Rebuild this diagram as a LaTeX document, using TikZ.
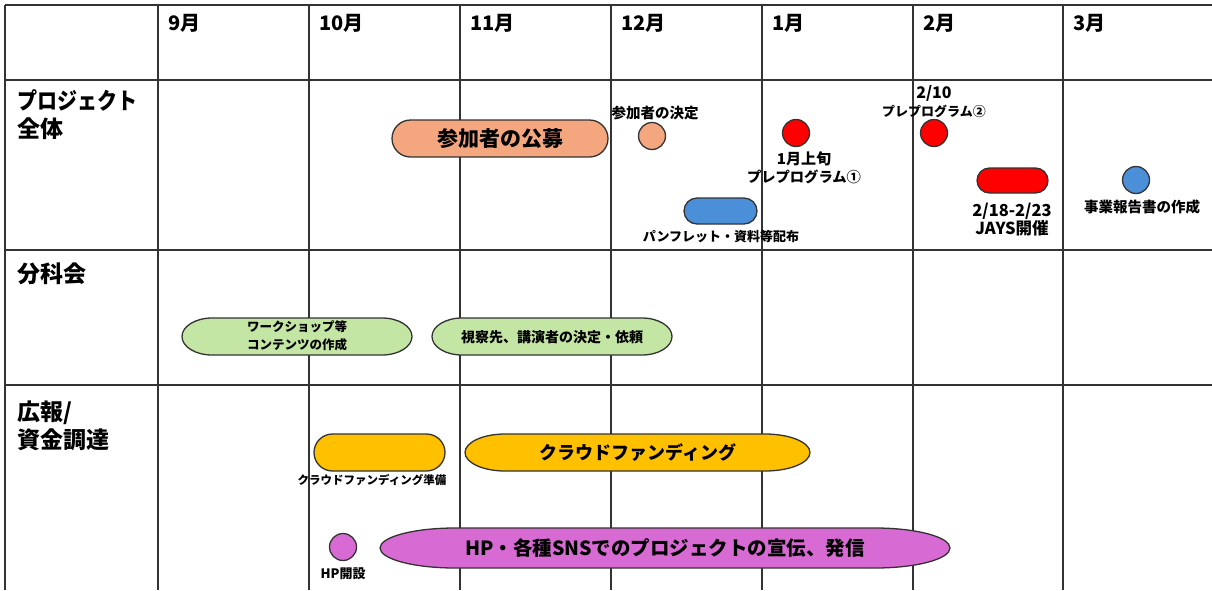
\documentclass[tikz,border=0pt]{standalone}
\usepackage{fontspec}
\usepackage{graphicx}
\setmainfont{Noto Sans CJK JP}
\definecolor{cSalmon}{HTML}{F4A67F}
\definecolor{cRed}{HTML}{FF0000}
\definecolor{cBlue}{HTML}{4A8FD8}
\definecolor{cGreen}{HTML}{C4E6A4}
\definecolor{cYellow}{HTML}{FFC000}
\definecolor{cMag}{HTML}{D86AD4}
\definecolor{cLine}{HTML}{333333}
\newcommand\epill[7]{%
  \pgfmathsetmacro\pillry{(#4-#3)/2}%
  \draw[shapeline, fill=#7] (#2-#6,#3) arc[start angle=-90,end angle=90,x radius=#6,y radius=\pillry]
    -- (#1+#5,#4) arc[start angle=90,end angle=270,x radius=#5,y radius=\pillry] -- cycle;}
\newcommand\fs[1]{\fontsize{#1}{18}\selectfont\bfseries}
\begin{document}
\begin{tikzpicture}[x=1pt,y=-1pt,
  grid/.style={draw=cLine, line width=1.3pt},
  shapeline/.style={draw=cLine, line width=1.3pt},
  dot/.style={circle, shapeline, minimum size=27pt, inner sep=0pt},
  month/.style={anchor=west, font=\fontsize{20}{22}\selectfont\bfseries, inner sep=0pt},
  rowlab/.style={anchor=north west, align=left, font=\fontsize{23}{28}\selectfont\bfseries, inner sep=0pt},
  small/.style={align=center, font=\fs{13}, inner sep=0pt},
  big/.style={align=center, font=\fontsize{19.5}{22}\selectfont\bfseries, inner sep=0pt}]
\useasboundingbox (0,0) rectangle (1212,590);
% grid
\foreach \yy in {5,80,250,385} \draw[grid] (5,\yy) -- (1212,\yy);
\foreach \xx in {5,158,309,460,611,762,913,1063} \draw[grid] (\xx,5) -- (\xx,590);
% header
\node[month] (m9) at (168,23) {9月};
\node[month] (m10) at (319,23) {10月};
\node[month] (m11) at (470,23) {11月};
\node[month] (m12) at (621,23) {12月};
\node[month] (m1) at (772,23) {1月};
\node[month] (m2) at (923,23) {2月};
\node[month] (m3) at (1073,23) {3月};
% row labels
\node[rowlab] (r1) at (17,89) {\scalebox{0.87}[1]{プロジェクト}\\全体};
\node[rowlab] (r2) at (17,263) {分科会};
\node[rowlab] (r3) at (17,401) {広報/\\資金調達};
% row 1
\epill{392}{608}{120}{157}{18.5}{18.5}{cSalmon}
\node[big, font=\fontsize{21}{22}\selectfont\bfseries] (koubo) at (500,139) {参加者の公募};
\node[dot, fill=cSalmon] (kettei) at (652,136) {};
\node[small, font=\fs{14.5}] (ketteiL) at (655,113) {参加者の決定};
\node[dot, fill=cRed] (pre1) at (796,133) {};
\node[small, align=center] (pre1L) at (804,168) {{\fs{15}1月上旬}\\{\fs{14.3}プレプログラム①}};
\node[dot, fill=cRed] (pre2) at (934,133) {};
\node[small] (pre2L) at (934,102) {{\fs{16}2/10}\\プレプログラム②};
\epill{977}{1048}{168}{193}{12.5}{12.5}{cRed}
\node[small, font=\fs{16.5}] (jays) at (1012,220) {2/18-2/23\\JAYS開催};
\node[dot, fill=cBlue] (houkoku) at (1136,180) {};
\node[small, font=\fs{14.5}] (houkokuL) at (1142,207) {事業報告書の作成};
\epill{684}{757}{198}{224}{13}{13}{cBlue}
\node[small] (pamph) at (721,237) {パンフレット・資料等配布};
% row 2
\epill{182}{412}{318}{355}{30}{30}{cGreen}
\node[small, font=\fs{12.5}] (ws) at (297,336) {ワークショップ等\\コンテンツの作成};
\epill{432}{672}{318}{355}{30}{30}{cGreen}
\node[small, font=\fs{14}] (shisatsu) at (552,337) {視察先、講演者の決定・依頼};
% row 3
\epill{314}{445}{434}{471}{18.5}{18.5}{cYellow}
\node[small, font=\fs{11.5}] (cfprep) at (372,480) {クラウドファンディング準備};
\epill{465}{810}{434}{471}{40}{45}{cYellow}
\node[big, font=\fontsize{18}{22}\selectfont\bfseries] (cf) at (638,453) {クラウドファンディング};
\node[dot, fill=cMag] (hp) at (343,547) {};
\node[small] (hpL) at (343,574) {HP開設};
\epill{380}{950}{528}{568}{75}{75}{cMag}
\node[big] (sns) at (665,548) {HP・各種SNSでのプロジェクトの宣伝、発信};
\end{tikzpicture}
\end{document}
